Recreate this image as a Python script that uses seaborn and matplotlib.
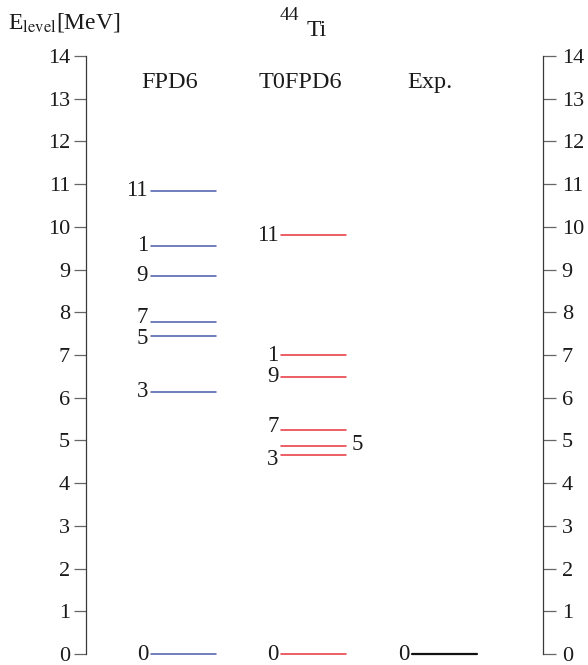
import numpy as np
import pandas as pd
import matplotlib
matplotlib.use("Agg")
import matplotlib.pyplot as plt
import seaborn as sns

# Level energies (MeV) and spins J for 44Ti
fpd6_spins = [0, 3, 5, 7, 9, 1, 11]
fpd6_energies = [0.0, 6.14, 7.45, 7.77, 8.86, 9.56, 10.85]

t0fpd6_spins = [0, 3, 5, 7, 9, 1, 11]
t0fpd6_energies = [0.0, 4.65, 4.86, 5.24, 6.49, 6.99, 9.80]

exp_spins = [0]
exp_energies = [0.0]

models = ["FPD6", "T0FPD6", "Exp."]
header_labels = ["FPD6", "T0FPD6", "Exp."]
energy_ticks = list(range(0, 15))

sns.set_style("ticks")
plt.rcParams["font.family"] = ["Liberation Serif", "DejaVu Serif"]
plt.rcParams["mathtext.fontset"] = "stix"

FS = 16
W, H = 588, 665
fig = plt.figure(figsize=(W / 100, H / 100), dpi=100)
ax = fig.add_axes([86 / W, 11 / H, (543 - 86) / W, (654 - 56) / H])

# horizontal extent of each column of levels (axes x in 0..1)
col_left = {"FPD6": 0.142, "T0FPD6": 0.427, "Exp.": 0.713}
col_width = 0.142
colors = {"FPD6": "#4a58ab", "T0FPD6": "#e8323a", "Exp.": "#111111"}

level_sets = {
    "FPD6": (fpd6_spins, fpd6_energies),
    "T0FPD6": (t0fpd6_spins, t0fpd6_energies),
    "Exp.": (exp_spins, exp_energies),
}

rows = []
for m in models:
    spins, energies = level_sets[m]
    for j, e in zip(spins, energies):
        x0 = col_left[m]
        for x in (x0, x0 + col_width):
            rows.append({"model": m, "level": f"{m}-{j}", "x": x, "E": e})
df = pd.DataFrame(rows)

calc = df[df["model"] != "Exp."]
sns.lineplot(data=calc, x="x", y="E", hue="model", units="level",
             estimator=None, sort=False, palette=colors, lw=1.1,
             legend=False, ax=ax)
sns.lineplot(data=df[df["model"] == "Exp."], x="x", y="E", units="level",
             estimator=None, sort=False, color=colors["Exp."], lw=1.6,
             legend=False, ax=ax)
for ln in ax.lines:
    ln.set_clip_on(False)

# spin labels; a few are nudged apart where levels crowd together
nudge = {("FPD6", 7): 0.1, ("FPD6", 5): -0.06,
         ("T0FPD6", 7): 0.08, ("T0FPD6", 3): -0.09}
right_side = {("T0FPD6", 5)}
for m in models:
    spins, energies = level_sets[m]
    for j, e in zip(spins, energies):
        if (m, j) in right_side:
            ax.text(col_left[m] + col_width + 0.012, e + 0.05, str(j),
                    ha="left", va="center", fontsize=FS + 0.5,
                    color="#1a1a1a")
        else:
            ax.text(col_left[m] - 0.006, e + nudge.get((m, j), 0.0), str(j),
                    ha="right", va="center", fontsize=FS + 0.5,
                    color="#1a1a1a")

# column headers
header_x = [0.184, 0.47, 0.753]
for hx, lab in zip(header_x, header_labels):
    ax.text(hx, 13.39, lab, ha="center", va="center", fontsize=FS + 1.5,
            color="#1a1a1a")

ax.set_xlim(0, 1)
ax.set_ylim(0, 14)
ax.set_xlabel("")
ax.set_ylabel("")
ax.set_xticks([])
ax.set_yticks(energy_ticks)
ax.set_yticklabels([str(t) for t in energy_ticks])
for s in ("top", "bottom", "right"):
    ax.spines[s].set_visible(False)
ax.spines["left"].set_color("#3a3a3a")
ax.spines["left"].set_linewidth(0.9)
ax.tick_params(axis="y", direction="out", length=9, width=0.9,
               color="#666666", pad=2.5, labelsize=FS, labelcolor="#1a1a1a")

ax2 = ax.twinx()
ax2.set_ylim(0, 14)
ax2.set_yticks(energy_ticks)
ax2.set_yticklabels([str(t) for t in energy_ticks])
for s in ("top", "bottom", "left"):
    ax2.spines[s].set_visible(False)
ax2.spines["right"].set_color("#3a3a3a")
ax2.spines["right"].set_linewidth(0.9)
ax2.tick_params(axis="y", direction="out", length=9, width=0.9,
                color="#666666", pad=4.5, labelsize=FS, labelcolor="#1a1a1a")

# axis title and nucleus label
fig.text(8 / W, 1 - 28 / H, r"E$_{\mathrm{level}}$[MeV]", ha="left",
         va="baseline", fontsize=FS + 1, color="#1a1a1a")
fig.text(289 / W, 1 - 16 / H, "44", ha="center", va="center",
         fontsize=14, color="#1a1a1a")
fig.text(317 / W, 1 - 30 / H, "Ti", ha="center", va="center",
         fontsize=FS + 1, color="#1a1a1a")

fig.savefig("out.png", dpi=100)
